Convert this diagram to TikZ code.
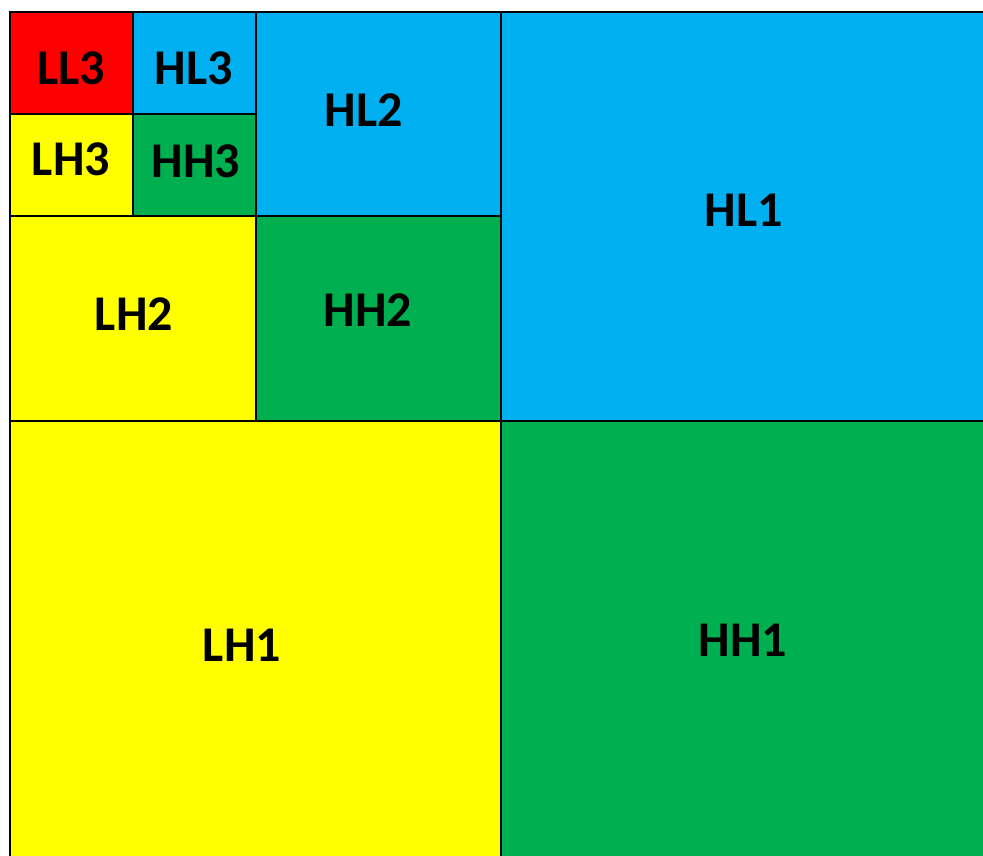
\documentclass[tikz,border=0pt]{standalone}
\usepackage{fontspec}
\setmainfont{Carlito}
\usepackage{tikz}
\usetikzlibrary{positioning}
\definecolor{subLL}{HTML}{FF0000}
\definecolor{subHL}{HTML}{00B0F0}
\definecolor{subLH}{HTML}{FFFF00}
\definecolor{subHH}{HTML}{00B050}
\tikzset{
  band/.style={draw=black,line width=2.4pt,inner sep=0pt,anchor=north west},
  bandlabel/.style={font=\bfseries\fontsize{50}{50}\selectfont,inner sep=0pt}
}

\begin{document}
\begin{tikzpicture}[x=1pt,y=-1pt]
  \useasboundingbox (0,0) rectangle (983,855);
  % level 1
  \node[band,fill=subHL,minimum width=520pt,minimum height=409pt] (HL1) at (500,11) {};
  \node[band,fill=subLH,minimum width=491pt,minimum height=470pt] (LH1) at (9,420) {};
  \node[band,fill=subHH,minimum width=520pt,minimum height=470pt] (HH1) at (500,420) {};
  % level 2
  \node[band,fill=subHL,minimum width=245pt,minimum height=204pt] (HL2) at (255,11) {};
  \node[band,fill=subLH,minimum width=246pt,minimum height=205pt] (LH2) at (9,215) {};
  \node[band,fill=subHH,minimum width=245pt,minimum height=205pt] (HH2) at (255,215) {};
  % level 3
  \node[band,fill=subLL,minimum width=123pt,minimum height=102pt] (LL3) at (9,11) {};
  \node[band,fill=subHL,minimum width=123pt,minimum height=102pt] (HL3) at (132,11) {};
  \node[band,fill=subLH,minimum width=123pt,minimum height=102pt] (LH3) at (9,113) {};
  \node[band,fill=subHH,minimum width=123pt,minimum height=102pt] (HH3) at (132,113) {};
  % labels
  \node[bandlabel] (tLL3) at (71,68) {LL3};
  \node[bandlabel] (tHL3) at (194,68) {HL3};
  \node[bandlabel] (tLH3) at (71,159) {LH3};
  \node[bandlabel] (tHH3) at (196,161) {HH3};
  \node[bandlabel] (tHL2) at (364,110) {HL2};
  \node[bandlabel] (tLH2) at (134,314) {LH2};
  \node[bandlabel] (tHH2) at (368,310) {HH2};
  \node[bandlabel] (tHL1) at (744,210) {HL1};
  \node[bandlabel] (tLH1) at (242,645) {LH1};
  \node[bandlabel] (tHH1) at (743,640) {HH1};
\end{tikzpicture}
\end{document}
